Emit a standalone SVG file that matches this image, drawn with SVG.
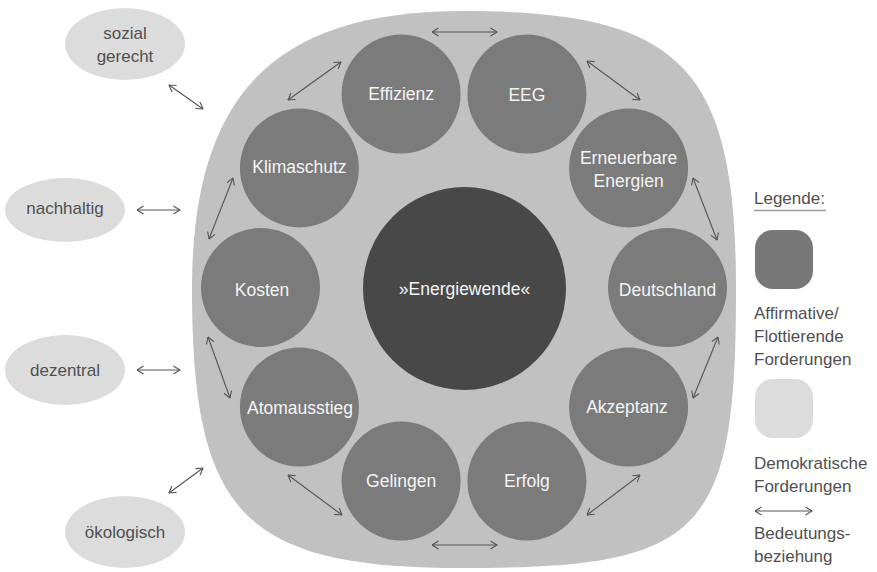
<svg xmlns="http://www.w3.org/2000/svg" width="877" height="572" viewBox="0 0 877 572">
<style>
  .bg{fill:#c1c1c1}
  .n{fill:#7b7b7b}
  .core{fill:#484848}
  .d{fill:#dcdcdc}
  .tw{font-family:"Liberation Sans",Arial,sans-serif;font-size:17.5px;fill:#f4f4f4;text-anchor:middle}
  .tg{font-family:"Liberation Sans",Arial,sans-serif;font-size:17px;fill:#505050;text-anchor:middle}
  .tl{font-family:"Liberation Sans",Arial,sans-serif;font-size:17px;fill:#505050}
  .c line{stroke:#555;stroke-width:1.1;marker-start:url(#ah);marker-end:url(#ah)}
</style>
<defs>
  <marker id="ah" viewBox="0 0 10 10" refX="9.5" refY="5" markerWidth="10" markerHeight="10" markerUnits="userSpaceOnUse" orient="auto-start-reverse">
    <path d="M3,1 L9.5,5 L3,9" fill="none" stroke="#555" stroke-width="1.1"/>
  </marker>
</defs>
<rect width="877" height="572" fill="#ffffff"/>
<path id="field" class="bg" d="M464,11 C681.6,11 736,66.7 736,289.5 C736,534.6 703.4,568 464,568 C243.7,568 192,515.1 192,289.5 C192,94.5 273.6,11 464,11 Z"/>

<g id="energiewende"><circle class="core" cx="464.5" cy="288.5" r="101.5"/><text class="tw" x="464.5" y="295">»Energiewende«</text></g>
<g id="deutschland"><circle class="n" cx="667.5" cy="287.5" r="59.5"/><text class="tw" x="667.5" y="296">Deutschland</text></g>
<g id="erneuerbare"><circle class="n" cx="628.6" cy="167.9" r="59.5"/><text class="tw" x="628.6" y="164">Erneuerbare</text><text class="tw" x="628.6" y="187">Energien</text></g>
<g id="eeg"><circle class="n" cx="526.9" cy="94" r="59.5"/><text class="tw" x="526.9" y="101">EEG</text></g>
<g id="effizienz"><circle class="n" cx="401.1" cy="94" r="59.5"/><text class="tw" x="401.1" y="100">Effizienz</text></g>
<g id="klimaschutz"><circle class="n" cx="299.4" cy="167.9" r="59.5"/><text class="tw" x="299.4" y="173">Klimaschutz</text></g>
<g id="kosten"><circle class="n" cx="260.5" cy="287.5" r="59.5"/><text class="tw" x="262" y="296">Kosten</text></g>
<g id="atomausstieg"><circle class="n" cx="299.4" cy="407.1" r="59.5"/><text class="tw" x="300" y="414">Atomausstieg</text></g>
<g id="gelingen"><circle class="n" cx="401.1" cy="481" r="59.5"/><text class="tw" x="401.1" y="487">Gelingen</text></g>
<g id="erfolg"><circle class="n" cx="526.9" cy="481" r="59.5"/><text class="tw" x="526.9" y="487">Erfolg</text></g>
<g id="akzeptanz"><circle class="n" cx="628.6" cy="407.1" r="59.5"/><text class="tw" x="627" y="413">Akzeptanz</text></g>

<g id="sozial-gerecht"><ellipse class="d" cx="125" cy="44" rx="60" ry="36"/><text class="tg" x="125" y="39">sozial</text><text class="tg" x="125" y="62">gerecht</text></g>
<g id="nachhaltig"><ellipse class="d" cx="65" cy="210" rx="60" ry="32"/><text class="tg" x="65" y="214">nachhaltig</text></g>
<g id="dezentral"><ellipse class="d" cx="65" cy="370" rx="60" ry="35"/><text class="tg" x="65" y="376">dezentral</text></g>
<g id="oekologisch"><ellipse class="d" cx="125" cy="532" rx="60" ry="36"/><text class="tg" x="125" y="538">ökologisch</text></g>

<g id="connectors" class="c">
  <line x1="432" y1="32" x2="497" y2="32"/>
  <line x1="288" y1="100" x2="341" y2="62"/>
  <line x1="169" y1="85" x2="203" y2="109"/>
  <line x1="587" y1="61" x2="640" y2="100"/>
  <line x1="693" y1="178" x2="717" y2="240"/>
  <line x1="718" y1="337" x2="693" y2="398"/>
  <line x1="640" y1="475" x2="587" y2="515"/>
  <line x1="432" y1="545" x2="497" y2="545"/>
  <line x1="288" y1="475" x2="342" y2="515"/>
  <line x1="169" y1="493" x2="203" y2="468"/>
  <line x1="208" y1="337" x2="230" y2="398"/>
  <line x1="209" y1="239" x2="233" y2="178"/>
  <line x1="137" y1="210" x2="180" y2="210"/>
  <line x1="137" y1="370" x2="180" y2="370"/>
</g>

<g id="legend">
  <text class="tl" x="754" y="204">Legende:</text>
  <line x1="754" y1="210.5" x2="826" y2="210.5" stroke="#9a9a9a" stroke-width="1.5"/>
  <rect x="755" y="230" width="58" height="59" rx="18" fill="#787878"/>
  <text class="tl" x="754" y="319">Affirmative/</text>
  <text class="tl" x="754" y="342">Flottierende</text>
  <text class="tl" x="754" y="365">Forderungen</text>
  <rect x="755" y="379" width="58" height="59" rx="18" fill="#dcdcdc"/>
  <text class="tl" x="754" y="469">Demokratische</text>
  <text class="tl" x="754" y="492">Forderungen</text>
  <g class="c"><line x1="755" y1="511" x2="812" y2="511"/></g>
  <text class="tl" x="754" y="539">Bedeutungs-</text>
  <text class="tl" x="754" y="562">beziehung</text>
</g>
</svg>
